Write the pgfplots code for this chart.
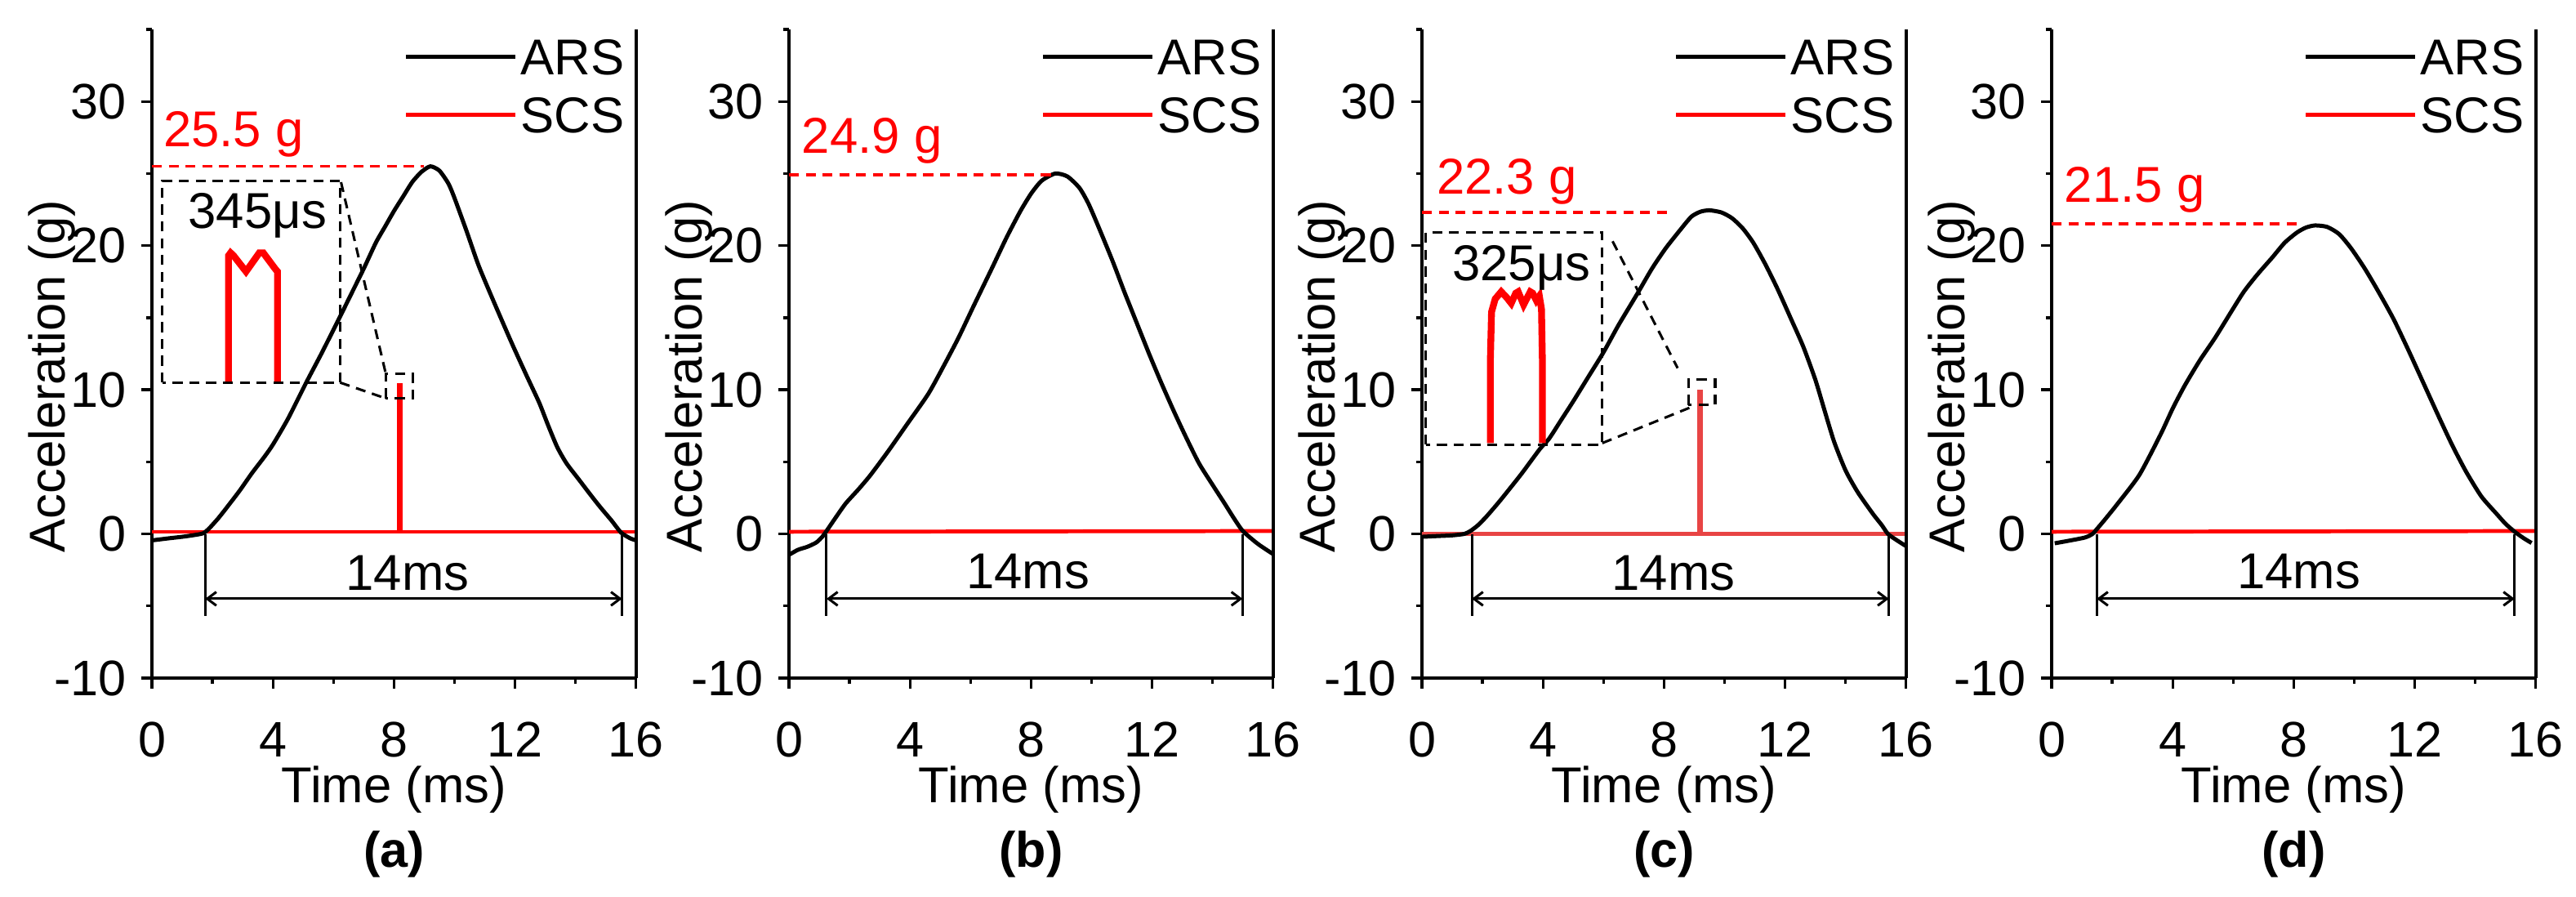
\documentclass[border=0pt]{standalone}
\usepackage{fontspec}
\setmainfont{Liberation Sans}
\usepackage{pgfplots}
\pgfplotsset{compat=1.18}
\usetikzlibrary{arrows.meta}
\definecolor{scsred}{RGB}{255,0,0}
\definecolor{scsredc}{RGB}{232,68,68}
\newcommand{\tfont}{\fontsize{11.1}{13}\selectfont}
\pgfplotsset{
  panel/.style={
    scale only axis, width=106.7pt, height=142.92pt,
    xmin=0,xmax=16,ymin=-10,ymax=35,
    xtick={0,4,8,12,16}, minor xtick={2,6,10,14},
    ytick={-10,0,10,20,30}, minor ytick={-5,5,15,25,35},
    axis x line*=bottom, axis y line*=left,
    tick align=outside,
    major tick length=2.3pt, minor tick length=1.3pt,
    axis line style={line width=0.65pt},
    every tick/.style={black, line width=0.6pt},
    tick label style={font=\fontsize{11}{12}\selectfont},
    /pgf/number format/assume math mode=true,
    xticklabel style={anchor=base, yshift=-15pt},
    yticklabel style={anchor=east, inner sep=0pt, xshift=-3.2pt},
    xlabel={Time (ms)}, ylabel={Acceleration (g)},
    label style={font=\tfont},
    xlabel style={at={(axis description cs:0.5,-0.1927)}, anchor=base},
    ylabel style={at={(axis description cs:-0.180,0.465)}, anchor=base},
    clip=false,
    legend style={draw=none, fill=none, at={(axis description cs:0.976,0.986)}, anchor=north east,
      inner sep=0pt, outer sep=0pt, font=\tfont,
      nodes={inner sep=0pt, text height=7.95pt, text depth=0pt}, row sep=4.9pt, column sep=0.8pt},
    legend cell align=left,
    legend image code/.code={\draw[#1] (0pt,0pt) -- (24pt,0pt);},
  },
  ars/.style={black, line width=0.9pt, forget plot, smooth, tension=0.4},
  scs/.style={scsred, line width=0.85pt, forget plot},
}
\tikzset{
  pk/.style={scsred, line width=0.65pt, dash pattern=on 2.2pt off 1.5pt},
  bx/.style={black, line width=0.55pt, dash pattern=on 2.2pt off 1.5pt},
  dim/.style={black, line width=0.55pt},
  dimarr/.style={black, line width=0.55pt, {Straight Barb[length=2pt,width=3pt]}-{Straight Barb[length=2pt,width=3pt]}},
}
\begin{document}
\begin{tikzpicture}
\path[use as bounding box] (0,0) rectangle (567.72pt,197.64pt);
% ---------------- (a)
\begin{axis}[panel, at={(33.48pt,48.24pt)}, anchor=south west]
\addlegendimage{black, line width=0.9pt}\addlegendentry{ARS}
\addlegendimage{scsred, line width=0.9pt}\addlegendentry{SCS}
\addplot[scs] coordinates {(0,0.15) (8.17,0.15) (8.17,10.3) (8.23,10.3) (8.23,0.15) (16,0.15)};
\addplot[ars] coordinates {
(0,-0.45) (0.5,-0.32) (1.0,-0.2) (1.4,-0.08) (1.7,0.05) (1.9,0.4) (2.2,1.1) (2.5,1.9)
(2.9,3.0) (3.3,4.2) (3.7,5.3) (4.0,6.2) (4.5,8.0) (5.1,10.5) (5.6,12.5) (6.2,15.0)
(6.6,16.7) (7.0,18.4) (7.4,20.2) (7.7,21.3) (8.0,22.4) (8.3,23.4) (8.6,24.4) (8.9,25.1)
(9.2,25.5) (9.5,25.2) (9.8,24.3) (10.0,23.3) (10.4,21.0) (10.8,18.6) (11.3,16.1) (11.9,13.2)
(12.4,10.9) (12.8,9.1) (13.1,7.5) (13.4,6.0) (13.7,4.9) (14.1,3.8) (14.5,2.7) (14.8,1.9)
(15.2,0.9) (15.5,0.1) (15.8,-0.3) (16.0,-0.45)};
\addplot[scsred, line width=1.5pt, forget plot] coordinates {
(2.53,10.5) (2.53,19.3) (2.60,19.5) (2.70,19.3) (3.11,18.2) (3.55,19.5) (3.68,19.5)
(4.07,18.4) (4.15,18.2) (4.15,10.5)};
\draw[line width=0.65pt] (rel axis cs:1,0) -- (rel axis cs:1,1);
\draw[pk] (axis cs:0,25.5) -- (axis cs:9.0,25.5);
\node[anchor=base west, text=scsred, font=\tfont, inner sep=0pt] at (axis cs:0.35,26.85) {25.5 g};
\draw[bx] (axis cs:0.35,10.5) rectangle (axis cs:6.22,24.5);
\draw[bx] (axis cs:7.73,9.4) rectangle (axis cs:8.62,11.1);
\draw[bx] (axis cs:6.25,24.4) -- (axis cs:7.73,11.1);
\draw[bx] (axis cs:6.22,10.5) -- (axis cs:7.73,9.4);
\node[anchor=base, font=\tfont, inner sep=0pt] at (axis cs:3.49,21.2) {345μs};
\draw[dim] (axis cs:1.76,0) -- (axis cs:1.76,-5.7);
\draw[dim] (axis cs:15.54,0) -- (axis cs:15.54,-5.7);
\draw[dimarr] (axis cs:1.76,-4.5) -- (axis cs:15.54,-4.5);
\node[anchor=base, font=\tfont, inner sep=0pt] at (axis cs:8.45,-3.9) {14ms};
\node[anchor=base, font=\bfseries\fontsize{11}{13}\selectfont, inner sep=0pt] at (axis description cs:0.5,-0.292) {(a)};
\end{axis}
% ---------------- (b)
\begin{axis}[panel, at={(173.88pt,48.24pt)}, anchor=south west]
\addlegendimage{black, line width=0.9pt}\addlegendentry{ARS}
\addlegendimage{scsred, line width=0.9pt}\addlegendentry{SCS}
\addplot[scs] coordinates {(0,0.15) (16,0.2)};
\addplot[ars] coordinates {
(0,-1.45) (0.3,-1.1) (0.6,-0.9) (0.9,-0.6) (1.1,-0.2) (1.24,0.2) (1.5,1.0) (1.87,2.1)
(2.3,3.1) (2.7,4.1) (3.3,5.8) (3.9,7.6) (4.6,9.7) (5.1,11.6) (5.6,13.6) (6.1,15.8)
(6.7,18.4) (7.2,20.6) (7.65,22.4) (8.0,23.6) (8.35,24.5) (8.8,25.0) (9.2,24.8) (9.6,24.0)
(9.9,22.9) (10.25,21.2) (10.7,18.9) (11.1,16.7) (11.5,14.6) (11.9,12.5) (12.3,10.5) (12.7,8.6)
(13.1,6.8) (13.55,4.9) (14.0,3.4) (14.4,2.1) (14.7,1.1) (15.0,0.2) (15.5,-0.7) (16.0,-1.4)};
\draw[line width=0.65pt] (rel axis cs:1,0) -- (rel axis cs:1,1);
\draw[pk] (axis cs:0,24.9) -- (axis cs:8.8,24.9);
\node[anchor=base west, text=scsred, font=\tfont, inner sep=0pt] at (axis cs:0.4,26.4) {24.9 g};
\draw[dim] (axis cs:1.24,0) -- (axis cs:1.24,-5.7);
\draw[dim] (axis cs:14.99,0) -- (axis cs:14.99,-5.7);
\draw[dimarr] (axis cs:1.24,-4.5) -- (axis cs:14.99,-4.5);
\node[anchor=base, font=\tfont, inner sep=0pt] at (axis cs:7.9,-3.8) {14ms};
\node[anchor=base, font=\bfseries\fontsize{11}{13}\selectfont, inner sep=0pt] at (axis description cs:0.5,-0.292) {(b)};
\end{axis}
% ---------------- (c)
\begin{axis}[panel, at={(313.38pt,48.24pt)}, anchor=south west]
\addlegendimage{black, line width=0.9pt}\addlegendentry{ARS}
\addlegendimage{scsred, line width=0.9pt}\addlegendentry{SCS}
\addplot[scs, scsredc] coordinates {(0,0) (9.16,0) (9.16,9.9) (9.22,9.9) (9.22,0) (16,0)};
\addplot[ars] coordinates {
(0,-0.2) (0.5,-0.15) (1.0,-0.1) (1.4,0.0) (1.6,0.2) (1.85,0.6) (2.13,1.2) (2.5,2.1)
(2.81,2.9) (3.3,4.2) (3.9,5.9) (4.2,6.6) (4.6,7.9) (5.0,9.2) (5.5,10.9) (6.0,12.6)
(6.5,14.5) (7.1,16.6) (7.6,18.4) (8.05,19.8) (8.5,21.0) (8.9,22.0) (9.2,22.35) (9.5,22.45)
(9.9,22.3) (10.25,21.9) (10.6,21.2) (10.95,20.2) (11.35,18.7) (11.75,17.0) (12.2,14.9) (12.6,13.0)
(13.0,10.7) (13.3,8.6) (13.62,6.4) (14.0,4.4) (14.4,2.9) (14.9,1.4) (15.2,0.6) (15.4,0.0)
(15.7,-0.45) (16.0,-0.85)};
\addplot[scsred, line width=1.5pt, forget plot] coordinates {
(2.26,6.3) (2.26,12) (2.30,15.4) (2.42,16.3) (2.62,16.8) (2.80,16.4) (2.95,16.0) (3.10,16.7)
(3.18,16.8) (3.36,15.9) (3.58,16.8) (3.66,16.7) (3.78,16.2) (3.88,16.5) (3.95,15.6) (3.98,12) (3.98,6.3)};
\draw[line width=0.65pt] (rel axis cs:1,0) -- (rel axis cs:1,1);
\draw[pk] (axis cs:0,22.3) -- (axis cs:8.1,22.3);
\node[anchor=base west, text=scsred, font=\tfont, inner sep=0pt] at (axis cs:0.46,23.6) {22.3 g};
\draw[bx] (axis cs:0.13,6.2) rectangle (axis cs:5.96,20.9);
\draw[bx] (axis cs:8.8,8.95) rectangle (axis cs:9.69,10.7);
\draw[bx] (axis cs:6.3,20.3) -- (axis cs:8.45,11.5);
\draw[bx] (axis cs:5.96,6.3) -- (axis cs:8.9,8.8);
\node[anchor=base, font=\tfont, inner sep=0pt] at (axis cs:3.29,17.6) {325μs};
\draw[dim] (axis cs:1.65,0) -- (axis cs:1.65,-5.7);
\draw[dim] (axis cs:15.43,0) -- (axis cs:15.43,-5.7);
\draw[dimarr] (axis cs:1.65,-4.5) -- (axis cs:15.43,-4.5);
\node[anchor=base, font=\tfont, inner sep=0pt] at (axis cs:8.31,-3.9) {14ms};
\node[anchor=base, font=\bfseries\fontsize{11}{13}\selectfont, inner sep=0pt] at (axis description cs:0.5,-0.292) {(c)};
\end{axis}
% ---------------- (d)
\begin{axis}[panel, at={(452.16pt,48.24pt)}, anchor=south west]
\addlegendimage{black, line width=0.9pt}\addlegendentry{ARS}
\addlegendimage{scsred, line width=0.9pt}\addlegendentry{SCS}
\addplot[scs] coordinates {(0,0.15) (16,0.2)};
\addplot[ars] coordinates {
(0.1,-0.65) (0.5,-0.5) (1.1,-0.25) (1.35,0.0) (1.5,0.35) (1.8,1.1) (2.2,2.15) (2.9,4.1)
(3.6,6.9) (4.0,8.7) (4.4,10.3) (4.9,12.05) (5.4,13.6) (5.9,15.3) (6.35,16.8) (6.8,18.0)
(7.3,19.2) (7.7,20.2) (8.1,20.9) (8.4,21.25) (8.7,21.4) (9.1,21.3) (9.5,20.8) (9.9,19.8)
(10.35,18.4) (10.8,16.8) (11.3,14.9) (11.8,12.7) (12.3,10.4) (12.8,8.1) (13.25,6.1) (13.7,4.3)
(14.2,2.6) (14.7,1.4) (15.0,0.7) (15.3,0.15) (15.6,-0.3) (15.86,-0.63)};
\draw[line width=0.65pt] (rel axis cs:1,0) -- (rel axis cs:1,1);
\draw[pk] (axis cs:0,21.5) -- (axis cs:8.2,21.5);
\node[anchor=base west, text=scsred, font=\tfont, inner sep=0pt] at (axis cs:0.4,23.0) {21.5 g};
\draw[dim] (axis cs:1.49,0) -- (axis cs:1.49,-5.7);
\draw[dim] (axis cs:15.3,0) -- (axis cs:15.3,-5.7);
\draw[dimarr] (axis cs:1.49,-4.5) -- (axis cs:15.3,-4.5);
\node[anchor=base, font=\tfont, inner sep=0pt] at (axis cs:8.17,-3.8) {14ms};
\node[anchor=base, font=\bfseries\fontsize{11}{13}\selectfont, inner sep=0pt] at (axis description cs:0.5,-0.292) {(d)};
\end{axis}
\end{tikzpicture}
\end{document}
